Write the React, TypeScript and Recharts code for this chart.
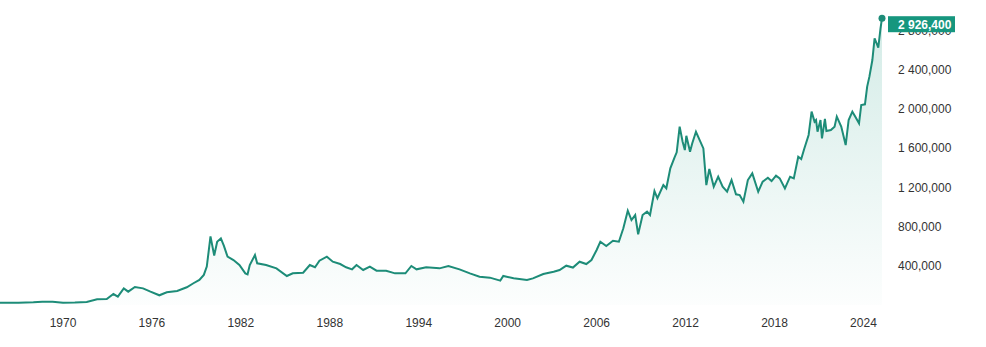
import React from 'react';
import { AreaChart, Area, XAxis, YAxis } from 'recharts';

// decimal years and price
const years: number[] = [
  1965.75, 1967.0, 1968.0, 1968.6, 1969.3, 1970.0, 1970.8, 1971.6, 1972.3, 1972.95,
  1973.4, 1973.7, 1974.1, 1974.4, 1974.85, 1975.4, 1975.9, 1976.5, 1977.0, 1977.7,
  1978.35, 1978.8, 1979.2, 1979.5, 1979.7, 1979.95, 1980.2, 1980.4, 1980.65, 1980.85,
  1981.1, 1981.5, 1981.9, 1982.3, 1982.45, 1982.6, 1982.95, 1983.1, 1983.7, 1984.4,
  1985.1, 1985.5, 1986.2, 1986.65, 1987.0, 1987.3, 1987.8, 1988.2, 1988.7, 1989.1,
  1989.5, 1989.8, 1990.25, 1990.7, 1991.15, 1991.8, 1992.4, 1993.1, 1993.5, 1993.85,
  1994.5, 1995.4, 1996.0, 1996.75, 1997.45, 1998.1, 1998.8, 1999.5, 1999.7, 2000.4,
  2001.3, 2001.7, 2002.4, 2003.1, 2003.5, 2003.95, 2004.4, 2004.85, 2005.3, 2005.65,
  2006.0, 2006.25, 2006.65, 2007.1, 2007.5, 2007.8, 2008.1, 2008.35, 2008.6, 2008.8,
  2009.1, 2009.4, 2009.6, 2009.9, 2010.1, 2010.5, 2010.7, 2010.97, 2011.25, 2011.4,
  2011.6, 2011.8, 2011.95, 2012.05, 2012.3, 2012.45, 2012.7, 2012.95, 2013.2, 2013.4,
  2013.6, 2013.9, 2014.2, 2014.5, 2014.8, 2015.1, 2015.4, 2015.65, 2015.9, 2016.2,
  2016.5, 2016.9, 2017.2, 2017.55, 2017.8, 2018.1, 2018.35, 2018.7, 2019.05, 2019.3,
  2019.6, 2019.8, 2020.0, 2020.3, 2020.5, 2020.7, 2020.8, 2020.9, 2021.1, 2021.2,
  2021.4, 2021.5, 2021.8, 2022.05, 2022.2, 2022.5, 2022.8, 2023.0, 2023.25, 2023.45,
  2023.7, 2023.85, 2024.1, 2024.25, 2024.4, 2024.6, 2024.75, 2025.0, 2025.15, 2025.25,
];

const prices: number[] = [
  24000, 24000, 28000, 34000, 32000, 24000, 25000, 30000, 58000, 61000,
  112000, 85000, 170000, 136000, 184000, 170000, 136000, 99000, 130000, 143000,
  181000, 222000, 256000, 307000, 392000, 700000, 505000, 646000, 680000, 605000,
  493000, 459000, 408000, 323000, 313000, 408000, 510000, 425000, 408000, 374000,
  296000, 323000, 330000, 408000, 385000, 452000, 493000, 442000, 418000, 385000,
  364000, 408000, 357000, 392000, 350000, 350000, 323000, 323000, 398000, 364000,
  385000, 374000, 398000, 364000, 323000, 289000, 279000, 249000, 296000, 272000,
  256000, 272000, 316000, 340000, 357000, 401000, 382000, 442000, 418000, 459000,
  561000, 646000, 602000, 656000, 646000, 783000, 962000, 867000, 918000, 721000,
  918000, 952000, 918000, 1163000, 1089000, 1224000, 1191000, 1395000, 1503000, 1558000,
  1820000, 1666000, 1581000, 1727000, 1564000, 1650000, 1768000, 1683000, 1598000, 1224000,
  1388000, 1207000, 1309000, 1207000, 1156000, 1275000, 1129000, 1122000, 1054000, 1275000,
  1343000, 1156000, 1258000, 1299000, 1265000, 1320000, 1292000, 1190000, 1309000, 1292000,
  1513000, 1490000, 1592000, 1735000, 1973000, 1871000, 1888000, 1768000, 1888000, 1700000,
  1898000, 1775000, 1786000, 1820000, 1922000, 1820000, 1632000, 1888000, 1973000, 1922000,
  1854000, 2041000, 2048000, 2228000, 2330000, 2500000, 2722000, 2626000, 2823000, 2926400,
];

const yearTicks = [1970, 1976, 1982, 1988, 1994, 2000, 2006, 2012, 2018, 2024];
const priceTicks = [400000, 800000, 1200000, 1600000, 2000000, 2400000, 2800000];

const data = years.map((year, i) => ({ year, price: prices[i] }));
const lastIndex = data.length - 1;

const W = 986;
const H = 347;
const X_DOMAIN = [1965.75, 2025.25];
const Y_DOMAIN = [0, 3000000];
const LINE = '#1d8c78';
const BADGE = '#16967e';
const FONT = '"Liberation Sans", Arial, sans-serif';

const fmt = (v: number) => v.toLocaleString('en-US').replace(/^(\d+),(\d{3},)/, '$1 $2');

// only the last point gets a dot and the value badge
const LastDot = (props: any) => {
  const { cx, cy, index } = props;
  if (index !== lastIndex) return <g key={index} />;
  return (
    <g key={index}>
      <circle cx={cx} cy={cy} r={3.5} fill={LINE} />
      <rect x={cx + 6} y={cy - 2} width={67} height={16} fill={BADGE} />
      <text x={cx + 16} y={cy + 10.5} fill="#fff" fontSize={12} fontWeight="bold" fontFamily={FONT}>
        {fmt(data[lastIndex].price)}
      </text>
    </g>
  );
};

export default function App() {
  return (
    <div style={{ position: 'absolute', left: 0, top: 0, width: W, height: H }}>
      <AreaChart width={W} height={H} data={data} margin={{ top: 11, right: 0, bottom: 12, left: 0 }}>
        <defs>
          <linearGradient id="fill" x1="0" y1="0" x2="0" y2="1">
            <stop offset="0%" stopColor="#1d9a82" stopOpacity={0.32} />
            <stop offset="100%" stopColor="#1d9a82" stopOpacity={0.02} />
          </linearGradient>
        </defs>
        <XAxis
          dataKey="year"
          type="number"
          domain={X_DOMAIN}
          ticks={yearTicks}
          axisLine={false}
          tickLine={false}
          tickMargin={7}
          height={30}
          tick={{ fill: '#333', fontSize: 12, fontFamily: FONT }}
        />
        <YAxis
          orientation="right"
          domain={Y_DOMAIN}
          ticks={priceTicks}
          tickFormatter={fmt}
          axisLine={false}
          tickLine={false}
          tickMargin={10}
          width={104}
          tick={{ fill: '#333', fontSize: 12, fontFamily: FONT, textAnchor: 'start' }}
        />
        <Area
          type="linear"
          dataKey="price"
          stroke={LINE}
          strokeWidth={2}
          fill="url(#fill)"
          isAnimationActive={false}
          dot={false}
          activeDot={false}
        />
      </AreaChart>
      {/* same scales on top, so the badge sits over the axis labels */}
      <div style={{ position: 'absolute', left: 0, top: 0, pointerEvents: 'none' }}>
        <AreaChart width={W} height={H} data={data} margin={{ top: 11, right: 104, bottom: 42, left: 0 }}>
          <XAxis dataKey="year" type="number" domain={X_DOMAIN} hide />
          <YAxis domain={Y_DOMAIN} hide />
          <Area
            type="linear"
            dataKey="price"
            stroke="none"
            fill="none"
            isAnimationActive={false}
            dot={<LastDot />}
            activeDot={false}
          />
        </AreaChart>
      </div>
    </div>
  );
}
